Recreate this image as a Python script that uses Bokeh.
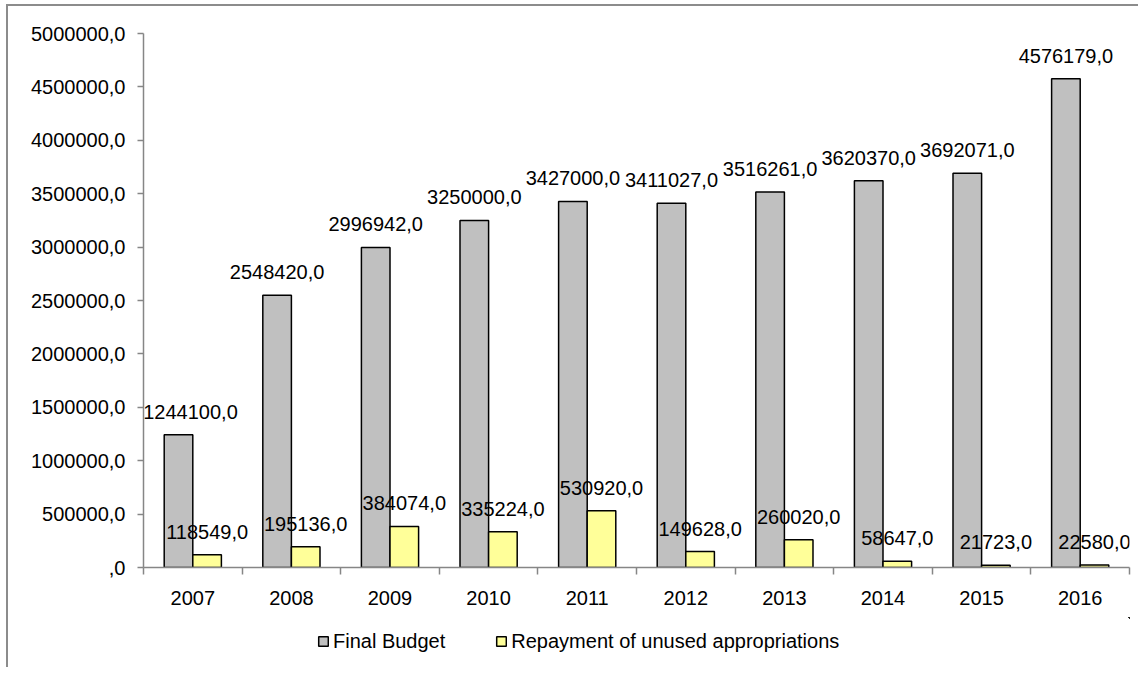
from bokeh.plotting import figure
from bokeh.layouts import column
from bokeh.models import FixedTicker, Legend, LegendItem, ColumnDataSource, Range1d
from bokeh.transform import dodge
from bokeh.core.properties import value
from bokeh.embed import file_html
from bokeh.resources import INLINE

# ---- data ----
years = ["2007", "2008", "2009", "2010", "2011", "2012", "2013", "2014", "2015", "2016"]
final_budget = [1244100, 2548420, 2996942, 3250000, 3427000, 3411027, 3516261, 3620370, 3692071, 4576179]
repayment = [118549, 195136, 384074, 335224, 530920, 149628, 260020, 58647, 21723, 22580]
y_ticks = [0, 500000, 1000000, 1500000, 2000000, 2500000, 3000000, 3500000, 4000000, 4500000, 5000000]
y_tick_labels = [",0", "500000,0", "1000000,0", "1500000,0", "2000000,0", "2500000,0",
                 "3000000,0", "3500000,0", "4000000,0", "4500000,0", "5000000,0"]
series_names = ["Final Budget", "Repayment of unused appropriations"]

# ---- styles ----
FONT = "Liberation Sans"
FS = "20px"
GRAY = "#C0C0C0"
YELLOW = "#FFFF99"
AXIS = "#868686"
BAR_W = 0.29
fb_label_shift = [12, 0, 0, 0, 0, 0, 0, 0, 0, 0]

def fmt(v):
    return (f"{v}" if v else "") + ",0"

idx = list(range(len(years)))
src = ColumnDataSource(dict(
    x=idx, fb=final_budget, rp=repayment,
    fb_lbl=[fmt(v) for v in final_budget],
    rp_lbl=[fmt(v) for v in repayment],
    fb_dx=fb_label_shift,
))

p = figure(frame_width=986, frame_height=534, output_backend="svg", toolbar_location=None,
           x_range=Range1d(-0.5, len(years) - 0.5), y_range=Range1d(0, 5000000),
           min_border_left=135, min_border_top=27, min_border_right=9, min_border_bottom=50)
p.outline_line_color = None
p.xgrid.visible = False
p.ygrid.visible = False

bar_style = dict(width=BAR_W, line_color="black", line_width=1.5)
r_fb = p.vbar(x=dodge("x", -BAR_W / 2), top="fb", source=src, fill_color=GRAY, **bar_style)
r_rp = p.vbar(x=dodge("x", BAR_W / 2), top="rp", source=src, fill_color=YELLOW, **bar_style)

p.text(x=dodge("x", -BAR_W / 2), y="fb", text="fb_lbl", source=src, x_offset="fb_dx",
       y_offset=-23, text_align="center", text_baseline="alphabetic",
       text_font=value(FONT), text_font_size=FS, text_color="black")
p.text(x=dodge("x", BAR_W / 2), y="rp", text="rp_lbl", source=src,
       y_offset=-23, text_align="center", text_baseline="alphabetic",
       text_font=value(FONT), text_font_size=FS, text_color="black")

# y axis
ya = p.yaxis[0]
ya.ticker = FixedTicker(ticks=y_ticks)
ya.major_label_overrides = {t: l for t, l in zip(y_ticks, y_tick_labels)}
ya.axis_line_color = AXIS
ya.axis_line_width = 1.5
ya.major_tick_line_color = AXIS
ya.major_tick_line_width = 1.5
ya.major_tick_out = 6
ya.major_tick_in = 0
ya.minor_tick_line_color = None
ya.major_label_standoff = 12
ya.major_label_text_font = FONT
ya.major_label_text_font_size = FS
ya.major_label_text_color = "black"

# x axis
xa = p.xaxis[0]
xa.ticker = FixedTicker(ticks=idx, minor_ticks=[i - 0.5 for i in range(len(years) + 1)])
xa.major_label_overrides = {i: y for i, y in zip(idx, years)}
xa.axis_line_color = AXIS
xa.axis_line_width = 1.5
xa.major_tick_line_color = None
xa.major_tick_out = 0
xa.major_tick_in = 0
xa.minor_tick_line_color = AXIS
xa.minor_tick_line_width = 1.5
xa.minor_tick_out = 7
xa.minor_tick_in = 0
xa.major_label_standoff = 16
xa.major_label_text_font = FONT
xa.major_label_text_font_size = FS
xa.major_label_text_color = "black"

# ---- legend strip (separate figure below the chart; its ranges show no bars) ----
LEG_W, LEG_H = 1130, 50
pl = figure(width=LEG_W, height=LEG_H, output_backend="svg", toolbar_location=None,
            x_range=Range1d(-100, -99), y_range=Range1d(-100, -99),
            x_axis_location=None, y_axis_location=None,
            min_border_left=0, min_border_right=0, min_border_top=0, min_border_bottom=0)
pl.outline_line_color = None
pl.xgrid.visible = False
pl.ygrid.visible = False
l_fb = pl.vbar(x="x", top="fb", source=src, fill_color=GRAY, **bar_style)
l_rp = pl.vbar(x="x", top="rp", source=src, fill_color=YELLOW, **bar_style)

legend = Legend(items=[LegendItem(label=series_names[0], renderers=[l_fb]),
                       LegendItem(label=series_names[1], renderers=[l_rp])],
                orientation="horizontal", location=(174, 13),
                glyph_width=12, glyph_height=12, label_standoff=4, spacing=50,
                label_height=26,
                label_text_font=FONT, label_text_font_size=FS, label_text_color="black",
                border_line_color=None, background_fill_alpha=0,
                padding=6, margin=0)
pl.add_layout(legend, "center")

layout = column(p, pl, spacing=0)
layout.styles = {"border-top": "2px solid #8c8c8c", "border-left": "2px solid #8c8c8c",
                 "margin-left": "6px", "margin-top": "4px"}

open("out.html", "w").write(file_html(layout, INLINE))
